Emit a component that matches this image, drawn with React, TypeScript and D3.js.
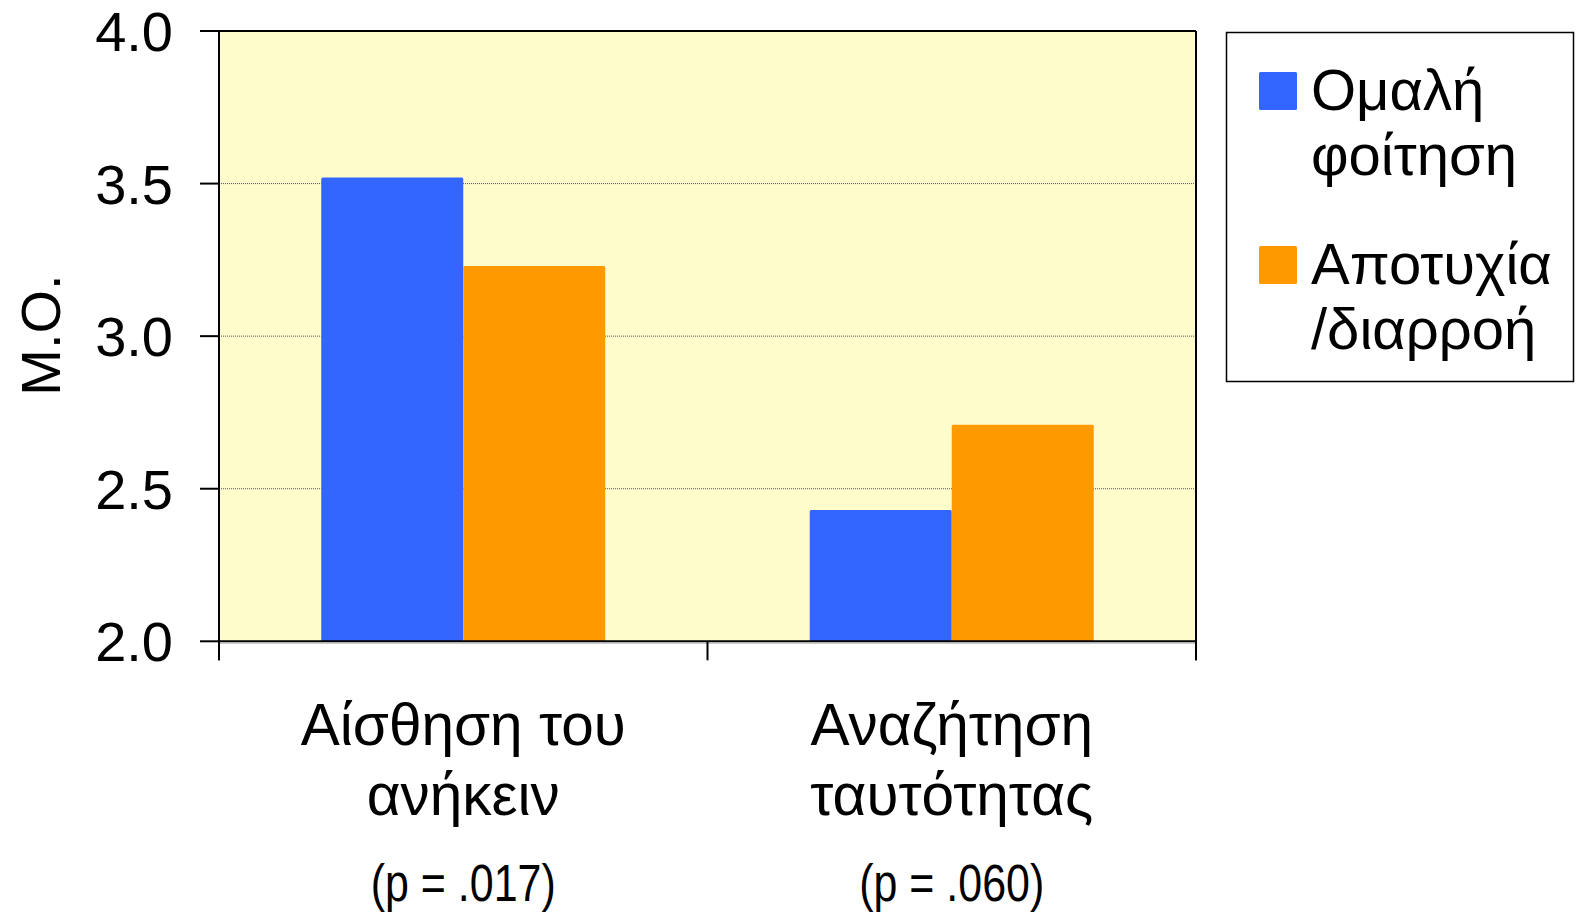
import React from 'react';
import * as d3 from 'd3';

// chart values
const categories = ['belonging', 'identity'];
const categoryLines = [['Αίσθηση του', 'ανήκειν'], ['Αναζήτηση', 'ταυτότητας']];
const pValues = ['(p = .017)', '(p = .060)'];
const seriesNames = ['Ομαλή φοίτηση', 'Αποτυχία /διαρροή'];
const legendLines = [['Ομαλή', 'φοίτηση'], ['Αποτυχία', '/διαρροή']];
const seriesColors = ['#3366FF', '#FF9900'];
const regularValues = [3.52, 2.43];
const dropoutValues = [3.23, 2.71];
const yTicks = [2.0, 2.5, 3.0, 3.5, 4.0];

const W = 1579;
const H = 914;
const FONT = "'Liberation Sans', Arial, sans-serif";

export default function App() {
  const plot = {left: 219, right: 1196, top: 31, bottom: 641.3};

  const x0 = d3.scaleBand<string>().domain(categories).range([plot.left, plot.right]).padding(0);
  const x1 = d3.scaleBand<string>().domain(seriesNames)
    .range([0, x0.bandwidth()]).paddingInner(0).paddingOuter(0.72);
  const y = d3.scaleLinear().domain([2, 4]).range([plot.bottom, plot.top]);

  const values = [regularValues, dropoutValues];
  const bars = categories.flatMap((c, ci) =>
    seriesNames.map((s, si) => ({c, s, v: values[si][ci], color: seriesColors[si]})));

  // category boundaries for the x ticks
  const xTickPos = [plot.left, ...categories.map(c => (x0(c) as number) + x0.bandwidth())];

  return (
    <svg width={W} height={H} style={{position: 'absolute', left: 0, top: 0}} fontFamily={FONT}>
      <rect x={0} y={0} width={W} height={H} fill="#fff"/>
      <rect x={plot.left} y={plot.top} width={plot.right - plot.left} height={plot.bottom - plot.top}
            fill="#FFFCCC"/>

      {yTicks.filter(t => t > 2 && t < 4).map(t => (
        <line key={'g' + t} x1={plot.left} x2={plot.right} y1={y(t)} y2={y(t)}
              stroke="#555" strokeWidth={1} strokeDasharray="1,1"/>
      ))}

      {bars.map(b => (
        <rect key={b.c + b.s} x={(x0(b.c) as number) + (x1(b.s) as number)} y={y(b.v)}
              width={x1.bandwidth()} height={y(2) - y(b.v)} fill={b.color} rx={1.5}/>
      ))}

      {/* frame */}
      <line x1={plot.left} x2={plot.right} y1={plot.top} y2={plot.top} stroke="#000" strokeWidth={2}/>
      <line x1={plot.right} x2={plot.right} y1={plot.top} y2={plot.bottom + 19} stroke="#000" strokeWidth={2}/>
      <line x1={plot.left} x2={plot.right} y1={plot.bottom + 2} y2={plot.bottom + 2} stroke="#bbb" strokeWidth={1}/>
      <line x1={plot.left} x2={plot.right} y1={plot.bottom} y2={plot.bottom} stroke="#000" strokeWidth={2}/>
      <line x1={plot.left} x2={plot.left} y1={plot.top} y2={plot.bottom + 19} stroke="#000" strokeWidth={2}/>

      {yTicks.map(t => (
        <g key={'t' + t}>
          <line x1={plot.left - 19} x2={plot.left} y1={y(t)} y2={y(t)} stroke="#000" strokeWidth={2}/>
          <text x={173} y={y(t)} dy="0.36em" textAnchor="end" fontSize={56} fill="#000">{t.toFixed(1)}</text>
        </g>
      ))}

      {xTickPos.map((p, i) => (
        <line key={'xt' + i} x1={p} x2={p} y1={plot.bottom} y2={plot.bottom + 19} stroke="#000" strokeWidth={2}/>
      ))}

      {categories.map((c, ci) => {
        const cx = (x0(c) as number) + x0.bandwidth() / 2;
        return (
          <g key={'lab' + c}>
            {categoryLines[ci].map((line, li) => (
              <text key={li} x={cx} y={745 + li * 70} textAnchor="middle" fontSize={58.5} fill="#000">{line}</text>
            ))}
            <text x={cx} y={901} textAnchor="middle" fontSize={51} fill="#000"
                  textLength={185} lengthAdjust="spacingAndGlyphs">{pValues[ci]}</text>
          </g>
        );
      })}

      <text transform="translate(60,335) rotate(-90)" textAnchor="middle" fontSize={56} fill="#000">Μ.Ο.</text>

      {/* legend */}
      <rect x={1226.5} y={32.5} width={347} height={349} fill="#fff" stroke="#000" strokeWidth={1.5}/>
      {seriesNames.map((s, si) => (
        <g key={'lg' + s}>
          <rect x={1259} y={72 + si * 174} width={38} height={38} fill={seriesColors[si]} rx={1.5}/>
          {legendLines[si].map((line, li) => (
            <text key={li} x={1311} y={110 + si * 174 + li * 65} fontSize={58} fill="#000">{line}</text>
          ))}
        </g>
      ))}
    </svg>
  );
}
